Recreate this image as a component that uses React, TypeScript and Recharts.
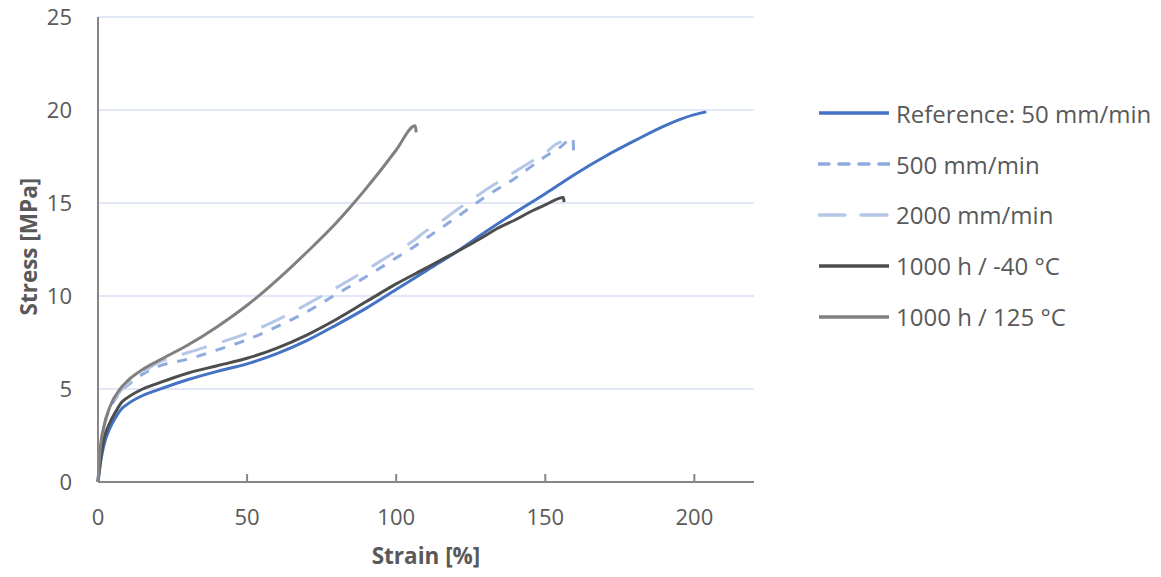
import React from 'react';
import { LineChart, Line, XAxis, YAxis, CartesianGrid } from 'recharts';

const FONT = '"Open Sans", sans-serif';
const TEXT = '#595959';

const xTicks = [0, 50, 100, 150, 200];
const yTicks = [0, 5, 10, 15, 20, 25];

const seriesNames = ['Reference: 50 mm/min', '500 mm/min', '2000 mm/min', '1000 h / -40 °C', '1000 h / 125 °C'];

const refStrain = [0, 1, 2, 4, 6, 8, 10, 15, 20, 30, 40, 50, 60, 70, 80, 90, 100, 110, 120, 130, 140, 150, 160, 170, 180, 190, 200, 204];
const refStress = [0, 1.2, 2.0, 2.9, 3.5, 3.95, 4.2, 4.65, 4.95, 5.5, 5.95, 6.35, 6.9, 7.6, 8.45, 9.35, 10.35, 11.35, 12.35, 13.45, 14.5, 15.5, 16.55, 17.5, 18.35, 19.15, 19.75, 19.9];

const s500Strain = [0, 0.7, 2, 4, 6, 8.5, 12, 15, 20, 30, 40, 50, 60, 70, 80, 90, 100, 106, 110, 120, 130, 140, 150, 155, 159.3, 159.5];
const s500Stress = [0, 1.6, 2.9, 3.95, 4.5, 5.0, 5.45, 5.8, 6.2, 6.6, 7.1, 7.65, 8.35, 9.15, 10.1, 11.05, 12.05, 12.65, 13.1, 14.2, 15.35, 16.35, 17.5, 18.0, 18.5, 17.7];

const s2000Strain = [0, 0.7, 2, 4, 6, 8.5, 12, 15, 20, 30, 40, 50, 60, 70, 80, 90, 98, 106, 110, 115, 120, 125, 130, 136, 140, 146, 150, 154, 155.5];
const s2000Stress = [0, 1.65, 2.95, 4.0, 4.55, 5.05, 5.55, 5.9, 6.4, 6.95, 7.45, 8.0, 8.7, 9.55, 10.45, 11.4, 12.2, 13.0, 13.5, 14.0, 14.6, 15.15, 15.7, 16.3, 16.7, 17.3, 17.7, 18.2, 18.3];

const coldStrain = [0, 1, 2, 4, 6, 8, 10, 15, 20, 30, 40, 50, 60, 70, 80, 90, 100, 110, 117, 120, 130, 134, 140, 145, 150, 156.1, 156.3];
const coldStress = [0, 1.4, 2.3, 3.2, 3.8, 4.3, 4.55, 5.0, 5.3, 5.85, 6.25, 6.65, 7.2, 7.9, 8.75, 9.7, 10.65, 11.5, 12.1, 12.35, 13.25, 13.64, 14.1, 14.53, 14.9, 15.3, 15.05];

const hotStrain = [0, 0.7, 2, 4, 7.4, 10, 15, 20, 30, 40, 50, 55, 60, 70, 80, 85, 90, 95, 100, 106.4, 106.7];
const hotStress = [0, 1.7, 3.0, 4.05, 5.0, 5.45, 6.05, 6.5, 7.35, 8.35, 9.5, 10.15, 10.85, 12.35, 13.95, 14.85, 15.8, 16.8, 17.85, 19.15, 18.8];

const toPoints = (xs: number[], ys: number[]) => xs.map((x, i) => ({ x, y: ys[i] }));

const series = [
  { name: seriesNames[0], data: toPoints(refStrain, refStress), color: '#4472C4', dash: undefined as string | undefined },
  { name: seriesNames[1], data: toPoints(s500Strain, s500Stress), color: '#8FAADC', dash: '10 10' },
  { name: seriesNames[2], data: toPoints(s2000Strain, s2000Stress), color: '#B4C7E7', dash: '26 16' },
  { name: seriesNames[3], data: toPoints(coldStrain, coldStress), color: '#4D4D4D', dash: undefined },
  { name: seriesNames[4], data: toPoints(hotStrain, hotStress), color: '#808080', dash: undefined },
];

const XTick = (props: any) => {
  const { x, y, payload } = props;
  const axisY = y - 28;
  return (
    <g>
      {payload.value !== 0 && (
        <line x1={x} x2={x} y1={axisY} y2={axisY - 8} stroke="#868686" strokeWidth={2} />
      )}
      <text x={x} y={y + 15} textAnchor="middle" fill={TEXT} fontSize={22} fontFamily={FONT}>
        {payload.value}
      </text>
    </g>
  );
};

const YTick = (props: any) => {
  const { x, y, payload } = props;
  return (
    <text x={x} y={y + 8} textAnchor="end" fill={TEXT} fontSize={22} fontFamily={FONT}>
      {payload.value}
    </text>
  );
};

const LegendBlock = () => (
  <div style={{ position: 'absolute', left: 818, top: 88, width: 343, fontFamily: FONT, fontSize: 24, color: TEXT }}>
    {series.map((s) => (
      <div key={s.name} style={{ height: 50.8, display: 'flex', alignItems: 'center', whiteSpace: 'nowrap' }}>
        <svg width={72} height={8} style={{ marginRight: 6, flex: 'none' }}>
          <line x1={1} x2={71} y1={4} y2={4} stroke={s.color} strokeWidth={3.5} strokeDasharray={s.dash} strokeLinecap={s.dash ? 'round' : 'butt'} />
        </svg>
        <span>{s.name}</span>
      </div>
    ))}
  </div>
);

export default function App() {
  return (
    <div style={{ position: 'absolute', left: 0, top: 0, width: 1161, height: 577, background: '#fff' }}>
      <LineChart width={1161} height={577} margin={{ top: 17, right: 407, bottom: 55, left: 38 }}>
        <CartesianGrid vertical={false} stroke="#D9E1F2" strokeWidth={1.5} />
        <XAxis
          dataKey="x"
          type="number"
          domain={[0, 220]}
          ticks={xTicks}
          allowDuplicatedCategory={false}
          height={40}
          stroke="#868686"
          strokeWidth={2}
          tickLine={false}
          tickSize={0}
          tickMargin={28}
          tick={<XTick />}
          label={{ value: 'Strain [%]', position: 'insideBottom', offset: -42, fill: TEXT, fontSize: 22.5, fontWeight: 700, fontFamily: FONT }}
        />
        <YAxis
          type="number"
          domain={[0, 25]}
          ticks={yTicks}
          width={60}
          stroke="#868686"
          strokeWidth={2}
          tickLine={false}
          tickSize={0}
          tickMargin={26}
          tick={<YTick />}
          label={{ value: 'Stress [MPa]', angle: -90, position: 'insideLeft', offset: -9, dy: 66, fill: TEXT, fontSize: 22.5, fontWeight: 700, fontFamily: FONT }}
        />
        {series.map((s) => (
          <Line
            key={s.name}
            data={s.data}
            dataKey="y"
            name={s.name}
            type="monotone"
            stroke={s.color}
            strokeWidth={3}
            strokeDasharray={s.dash}
            dot={false}
            activeDot={false}
            isAnimationActive={false}
          />
        ))}
      </LineChart>
      <LegendBlock />
    </div>
  );
}
